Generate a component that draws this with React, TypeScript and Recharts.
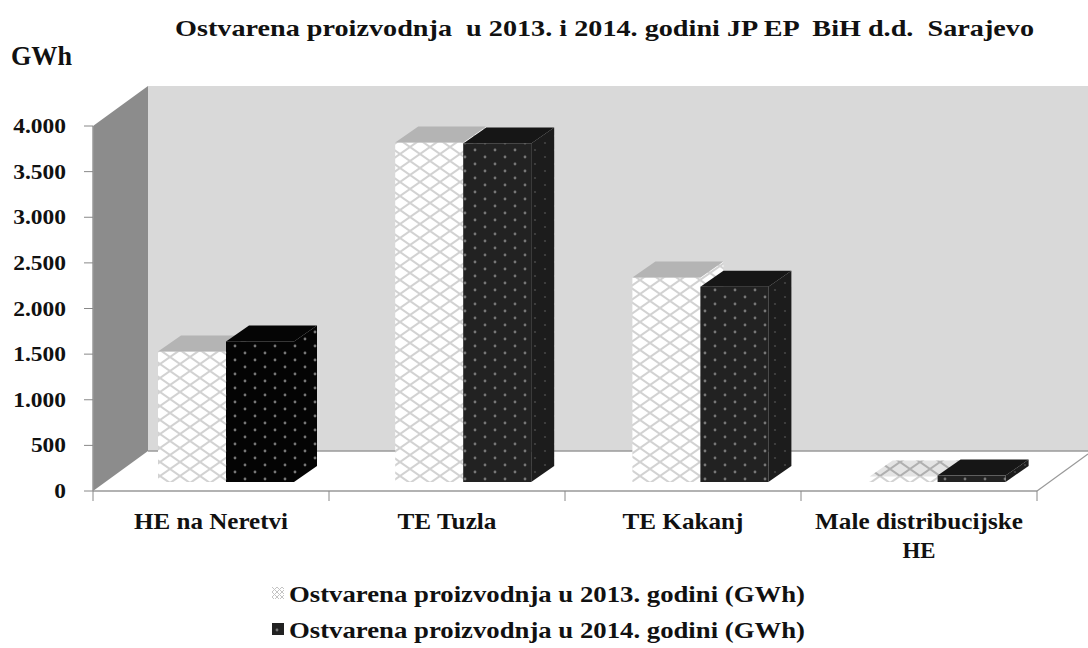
import { BarChart, Bar, XAxis, YAxis, Legend, Customized } from 'recharts'

const CATEGORIES = ['HE na Neretvi', 'TE Tuzla', 'TE Kakanj', 'Male distribucijske HE']
const SERIES_2013 = [1430, 3720, 2240, 60]
const SERIES_2014 = [1540, 3710, 2140, 70]
const Y_TICKS = [0, 500, 1000, 1500, 2000, 2500, 3000, 3500, 4000]

const NAME_2013 = 'Ostvarena proizvodnja u 2013. godini (GWh)'
const NAME_2014 = 'Ostvarena proizvodnja u 2014. godini (GWh)'
const TITLE = 'Ostvarena proizvodnja  u 2013. i 2014. godini JP EP  BiH d.d.  Sarajevo'

const FONT = '"Liberation Serif", serif'
const WIDTH = 1088
const HEIGHT = 648
const PLOT_TOP = 126
const PLOT_BOTTOM = 157
const PLOT_LEFT = 93
const PLOT_RIGHT = 51
const BAND = 236

// 3D look of the original: depth of the box and of the chart room
const BAR_DX = 23
const BAR_DY = 16
const ROOM_DX = 55
const ROOM_DY = 40

// the picture is stretched sideways, so label widths are measured off it
const LABEL_WIDTHS: Record<string, number> = {
  'HE na Neretvi': 154,
  'TE Tuzla': 99,
  'TE Kakanj': 121,
  'Male distribucijske': 208,
  HE: 33,
}

const rows = CATEGORIES.map((name, i) => ({
  name,
  y2013: SERIES_2013[i],
  y2014: SERIES_2014[i],
}))

function formatTick(value: number): string {
  if (value < 1000) return String(value)
  return `${Math.floor(value / 1000)}.${String(value % 1000).padStart(3, '0')}`
}

function Box({ x, y, width, height, index, front, side, top }: any) {
  // bars stand a little inside the floor, and the original spacing grows slightly
  const left = x + 15 + index * 1.2
  const right = left + width
  const bottom = y + height - 9
  const up = y - 9
  return (
    <g>
      <rect x={left} y={up} width={width} height={bottom - up} fill={front} />
      <polygon
        points={`${right},${up} ${right + BAR_DX},${up - BAR_DY} ${right + BAR_DX},${bottom - BAR_DY} ${right},${bottom}`}
        fill={side}
      />
      <polygon
        points={`${left},${up} ${left + BAR_DX},${up - BAR_DY} ${right + BAR_DX},${up - BAR_DY} ${right},${up}`}
        fill={top}
      />
    </g>
  )
}

function Shape2013(props: any) {
  return <Box {...props} front="url(#hatch)" side="url(#hatch)" top={props.index === 3 ? 'url(#hatchTop)' : '#b4b4b4'} />
}

function Shape2014(props: any) {
  const first = props.index === 0
  return (
    <Box
      {...props}
      front={first ? 'url(#dotsBlack)' : 'url(#dots)'}
      side={first ? 'url(#dotsBlack)' : 'url(#dotsSide)'}
      top={first ? '#050505' : '#161616'}
    />
  )
}

function Room() {
  const x0 = PLOT_LEFT
  const y0 = HEIGHT - PLOT_BOTTOM
  const xEnd = WIDTH - PLOT_RIGHT
  return (
    <g>
      <polygon
        points={`${x0 + ROOM_DX},${PLOT_TOP - ROOM_DY} ${WIDTH},${PLOT_TOP - ROOM_DY} ${WIDTH},${y0 - ROOM_DY} ${x0 + ROOM_DX},${y0 - ROOM_DY}`}
        fill="#d9d9d9"
      />
      <polygon
        points={`${x0},${PLOT_TOP} ${x0 + ROOM_DX},${PLOT_TOP - ROOM_DY} ${x0 + ROOM_DX},${y0 - ROOM_DY} ${x0},${y0}`}
        fill="#8c8c8c"
      />
      <line x1={x0 + ROOM_DX} y1={y0 - ROOM_DY} x2={WIDTH} y2={y0 - ROOM_DY} stroke="#9a9a9a" strokeWidth={1.5} />
      <line x1={xEnd} y1={y0} x2={WIDTH} y2={y0 - ROOM_DY + 3} stroke="#999" strokeWidth={1.2} />
      <text x={175} y={36} textLength={859} lengthAdjust="spacingAndGlyphs" fontFamily={FONT} fontWeight="bold" fontSize={23} fill="#111" xmlSpace="preserve">
        {TITLE}
      </text>
      <text x={11} y={65} textLength={61} lengthAdjust="spacingAndGlyphs" fontFamily={FONT} fontWeight="bold" fontSize={27} fill="#111">
        GWh
      </text>
    </g>
  )
}

function CategoryTick({ x, y, payload, index }: any) {
  const words = payload.value === 'Male distribucijske HE' ? ['Male distribucijske', 'HE'] : [payload.value]
  return (
    <g>
      <line x1={x - BAND / 2} y1={y - 8} x2={x - BAND / 2} y2={y + 2} stroke="#888" />
      {index === CATEGORIES.length - 1 && <line x1={x + BAND / 2} y1={y - 8} x2={x + BAND / 2} y2={y + 2} stroke="#888" />}
      {words.map((w: string, i: number) => (
        <text
          key={w}
          x={x}
          y={529 + i * 29}
          textAnchor="middle"
          textLength={LABEL_WIDTHS[w]}
          lengthAdjust="spacingAndGlyphs"
          fontFamily={FONT}
          fontWeight="bold"
          fontSize={23}
          fill="#111"
        >
          {w}
        </text>
      ))}
    </g>
  )
}

function ValueTick({ x, y, payload }: any) {
  const label = formatTick(payload.value)
  const digits = label.replace('.', '').length
  return (
    <text
      x={x}
      y={y + 7}
      textAnchor="end"
      textLength={digits * 11.7 + (label.includes('.') ? 6 : 0)}
      lengthAdjust="spacingAndGlyphs"
      fontFamily={FONT}
      fontWeight="bold"
      fontSize={22}
      fill="#111"
    >
      {label}
    </text>
  )
}

function LegendRows() {
  return (
    <svg width={560} height={75} style={{ display: 'block' }}>
      {[NAME_2013, NAME_2014].map((name, i) => (
        <g key={name} transform={`translate(0, ${i * 36})`}>
          <rect x={0} y={10} width={12} height={12} fill={i === 0 ? 'url(#hatchLegend)' : 'url(#dots)'} />
          <text x={17} y={25} textLength={516} lengthAdjust="spacingAndGlyphs" fontFamily={FONT} fontWeight="bold" fontSize={23} fill="#111">
            {name}
          </text>
        </g>
      ))}
    </svg>
  )
}

export default function App() {
  return (
    <div style={{ position: 'absolute', left: 0, top: 0, width: WIDTH, height: HEIGHT, background: '#fff' }}>
      <BarChart
        width={WIDTH}
        height={HEIGHT}
        data={rows}
        margin={{ top: PLOT_TOP, right: PLOT_RIGHT, bottom: 0, left: 0 }}
        barGap={0}
        barSize={68}
        barCategoryGap={50}
      >
        <defs>
          <pattern id="hatch" width={20} height={14} patternUnits="userSpaceOnUse">
            <rect width={20} height={14} fill="#fff" />
            <path d="M0,0 L20,14 M20,0 L0,14" stroke="#d2d2d2" strokeWidth={2} />
          </pattern>
          <pattern id="hatchTop" width={20} height={14} patternUnits="userSpaceOnUse">
            <rect width={20} height={14} fill="#e4e4e4" />
            <path d="M0,0 L20,14 M20,0 L0,14" stroke="#b0b0b0" strokeWidth={2} />
          </pattern>
          <pattern id="hatchLegend" width={5} height={5} patternUnits="userSpaceOnUse">
            <rect width={5} height={5} fill="#fff" />
            <path d="M0,0 L5,5 M5,0 L0,5" stroke="#c4c4c4" />
          </pattern>
          <pattern id="dots" width={20} height={14} patternUnits="userSpaceOnUse">
            <rect width={20} height={14} fill="#222" />
            <circle cx={5} cy={3} r={1.4} fill="#777" />
            <circle cx={15} cy={10} r={1.4} fill="#777" />
          </pattern>
          <pattern id="dotsSide" width={20} height={14} patternUnits="userSpaceOnUse">
            <rect width={20} height={14} fill="#1c1c1c" />
            <circle cx={5} cy={3} r={1.1} fill="#444" />
            <circle cx={15} cy={10} r={1.1} fill="#444" />
          </pattern>
          <pattern id="dotsBlack" width={20} height={14} patternUnits="userSpaceOnUse">
            <rect width={20} height={14} fill="#040404" />
            <circle cx={5} cy={3} r={1.4} fill="#777" />
            <circle cx={15} cy={10} r={1.4} fill="#777" />
          </pattern>
        </defs>
        <Customized component={Room} />
        <XAxis
          dataKey="name"
          interval={0}
          axisLine={{ stroke: '#999', strokeWidth: 1.5 }}
          tickLine={false}
          tick={<CategoryTick />}
          height={PLOT_BOTTOM}
        />
        <YAxis
          width={PLOT_LEFT}
          domain={[0, 4000]}
          ticks={Y_TICKS}
          interval={0}
          axisLine={{ stroke: '#999', strokeWidth: 1.5 }}
          tickLine={{ stroke: '#888' }}
          tickSize={9}
          tickMargin={18}
          tick={<ValueTick />}
        />
        <Bar dataKey="y2013" name={NAME_2013} shape={Shape2013} isAnimationActive={false} />
        <Bar dataKey="y2014" name={NAME_2014} shape={Shape2014} isAnimationActive={false} />
        <Legend
          content={<LegendRows />}
          layout="horizontal"
          verticalAlign="middle"
          align="center"
          wrapperStyle={{ left: 272, top: 577, width: 560, height: 75 }}
        />
      </BarChart>
    </div>
  )
}
